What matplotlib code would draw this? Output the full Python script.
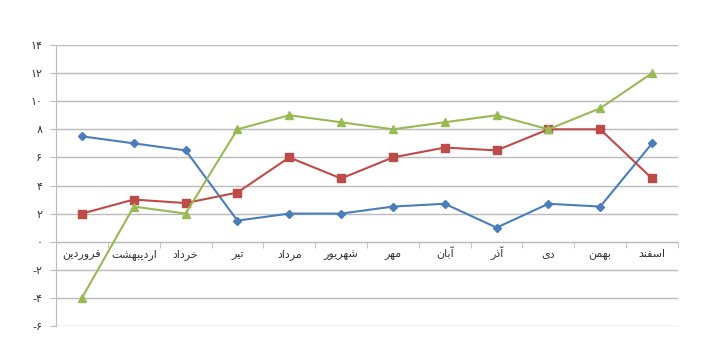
import numpy as np
import matplotlib
matplotlib.use("Agg")
import matplotlib.pyplot as plt

months = ["فروردین", "اردیبهشت", "خرداد", "تیر", "مرداد", "شهریور",
          "مهر", "آبان", "آذر", "دی", "بهمن", "اسفند"]
blue_vals = [7.5, 7, 6.5, 1.5, 2, 2, 2.5, 2.7, 1, 2.7, 2.5, 7]
red_vals = [2, 3, 2.75, 3.5, 6, 4.5, 6, 6.7, 6.5, 8, 8, 4.5]
green_vals = [-4, 2.5, 2, 8, 9, 8.5, 8, 8.5, 9, 8, 9.5, 12]
y_ticks = [-6, -4, -2, 0, 2, 4, 6, 8, 10, 12, 14]

# presentation forms: isolated, final, initial, medial (None = does not join to the left)
FORMS = {
   "ا": ("\uFE8D", "\uFE8E", None, None),
   "آ": ("\uFE81", "\uFE82", None, None),
   "ب": ("\uFE8F", "\uFE90", "\uFE91", "\uFE92"),
   "ت": ("\uFE95", "\uFE96", "\uFE97", "\uFE98"),
   "خ": ("\uFEA5", "\uFEA6", "\uFEA7", "\uFEA8"),
   "د": ("\uFEA9", "\uFEAA", None, None),
   "ذ": ("\uFEAB", "\uFEAC", None, None),
   "ر": ("\uFEAD", "\uFEAE", None, None),
   "س": ("\uFEB1", "\uFEB2", "\uFEB3", "\uFEB4"),
   "ش": ("\uFEB5", "\uFEB6", "\uFEB7", "\uFEB8"),
   "ف": ("\uFED1", "\uFED2", "\uFED3", "\uFED4"),
   "م": ("\uFEE1", "\uFEE2", "\uFEE3", "\uFEE4"),
   "ن": ("\uFEE5", "\uFEE6", "\uFEE7", "\uFEE8"),
   "ه": ("\uFEE9", "\uFEEA", "\uFEEB", "\uFEEC"),
   "و": ("\uFEED", "\uFEEE", None, None),
   "ی": ("\uFBFC", "\uFBFD", "\uFBFE", "\uFBFF"),
}

def shape(word):
   out = []
   for i, ch in enumerate(word):
      if ch not in FORMS:
         out.append(ch)
         continue
      prev = word[i-1] if i > 0 else None
      nxt = word[i+1] if i < len(word) - 1 else None
      join_prev = prev in FORMS and FORMS[prev][2] is not None
      join_next = nxt in FORMS and FORMS[ch][2] is not None
      iso, fin, ini, med = FORMS[ch]
      if join_prev and join_next:
         out.append(med)
      elif join_prev:
         out.append(fin)
      elif join_next:
         out.append(ini)
      else:
         out.append(iso)
   return "".join(reversed(out))

def fa_num(v):
   digits = "۰۱۲۳۴۵۶۷۸۹"
   s = "".join(digits[int(c)] for c in str(abs(v)))
   return "-" + s if v < 0 else s

plt.rcParams['font.family'] = ['DejaVu Sans']
fig = plt.figure(figsize=(7.02, 3.4), dpi=100)
ax = fig.add_axes([0.0798, 0.0412, 0.886, 0.8264])

# move the category axis to y = 0 first, it resets the ticks
for s in ["top", "right"]:
   ax.spines[s].set_visible(False)
ax.spines["left"].set_color("#BBBBBB")
ax.spines["bottom"].set_color("#BBBBBB")
ax.spines["bottom"].set_position(("data", 0))

x = np.arange(len(months))
ax.plot(x, blue_vals, color="#4A7EBB", lw=1.5, marker="D", ms=4.5, zorder=3)
ax.plot(x, red_vals, color="#BE4B48", lw=1.5, marker="s", ms=5.5, zorder=3)
ax.plot(x, green_vals, color="#98B954", lw=1.5, marker="^", ms=6, zorder=3)

ax.set_xlim(-0.5, len(months) - 0.5)
ax.set_ylim(-6, 14)
ax.set_yticks(y_ticks)
ax.set_yticklabels([fa_num(v) for v in y_ticks])
ax.set_xticks(x)
ax.set_xticklabels([shape(m) for m in months])
ax.set_xticks(np.arange(-0.5, len(months), 1), minor=True)

ax.grid(axis="y", color="#BBBBBB", lw=1.0)
ax.set_axisbelow(True)
ax.tick_params(axis="y", length=4, color="#BBBBBB", pad=6, labelsize=8, labelcolor="#333333")
ax.tick_params(axis="x", which="major", length=0, pad=11, labelsize=8, labelcolor="#333333")
ax.tick_params(axis="x", which="minor", length=4, color="#BBBBBB")
for lbl in ax.get_xticklabels():
   lbl.set_verticalalignment("baseline")

fig.savefig("out.png", dpi=100)
